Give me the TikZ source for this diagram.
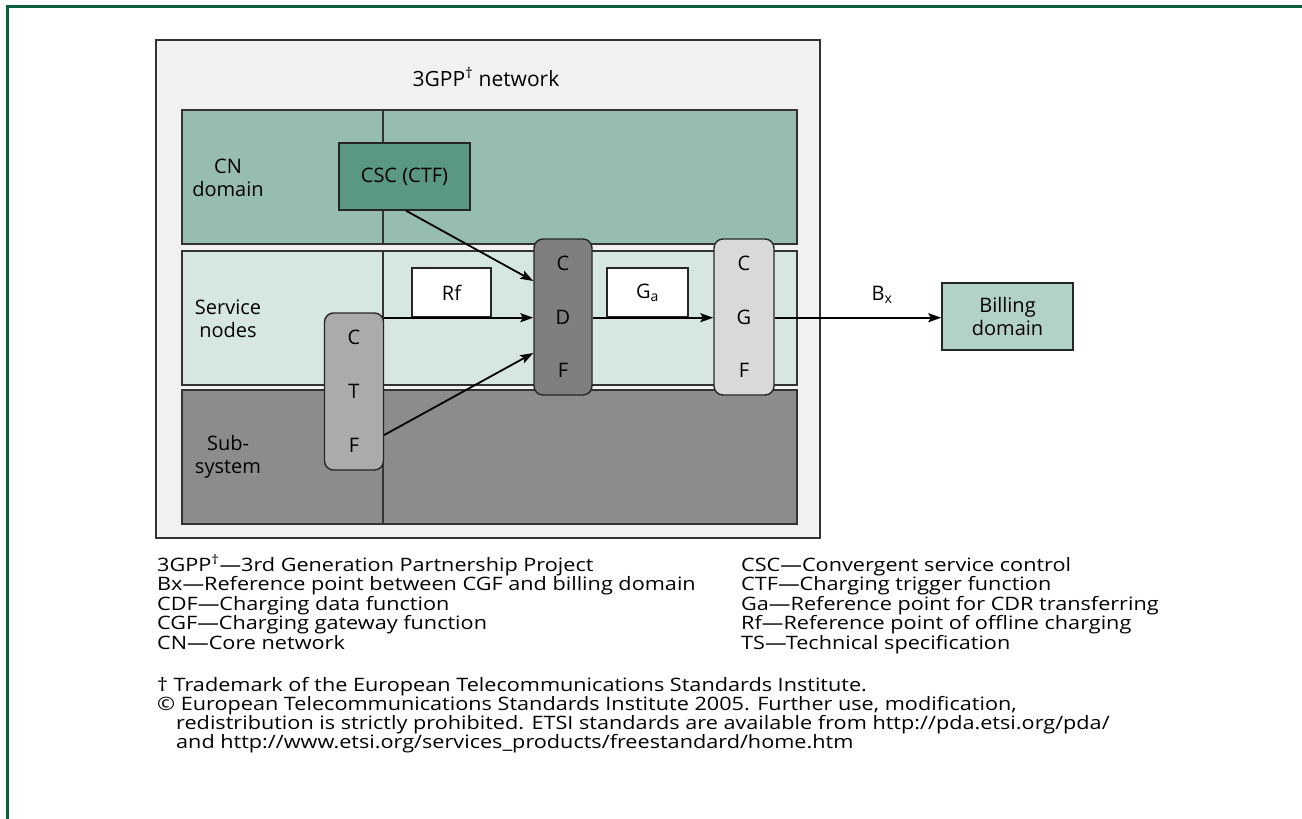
\documentclass[tikz,border=0pt]{standalone}
\usepackage{fontspec}
\setmainfont{Open Sans}
\newfontfamily\legendfont{Open Sans}[FakeStretch=1.17]
\usetikzlibrary{arrows.meta}

\definecolor{framegreen}{HTML}{0B5D3B}
\definecolor{netbg}{HTML}{F1F1F1}
\definecolor{netline}{HTML}{333333}
\definecolor{cnband}{HTML}{97BCB0}
\definecolor{svband}{HTML}{D6E6E0}
\definecolor{subband}{HTML}{8C8C8C}
\definecolor{cscfill}{HTML}{5B9883}
\definecolor{cdffill}{HTML}{7F7F7F}
\definecolor{cgffill}{HTML}{D9D9D9}
\definecolor{ctffill}{HTML}{ABABAB}
\definecolor{billfill}{HTML}{B3D2C7}

\begin{document}
\begin{tikzpicture}[x=1pt, y=-1pt,
  font=\fontsize{20}{23}\selectfont,
  band/.style={draw=netline, line width=1.6pt, inner sep=0pt, anchor=north west,
               minimum width=615pt, minimum height=134pt},
  plainbox/.style={draw=black!85, line width=1.4pt, inner sep=0pt, align=center},
  funcbox/.style={plainbox, rounded corners=9pt, minimum width=59pt, minimum height=156pt,
                  font=\fontsize{20}{53.5}\selectfont},
  reflabel/.style={plainbox, fill=white, minimum width=80pt, minimum height=49pt},
  bandtext/.style={align=center, inner sep=0pt},
  flow/.style={line width=1.8pt, -{Stealth[length=13pt, width=9pt, inset=2.5pt]}},
  legend/.style={anchor=base west, inner sep=0pt, font=\legendfont\fontsize{18.5}{19.5}\selectfont}
]
\useasboundingbox (0,0) rectangle (1302,819);

% page frame (top and left rules)
\draw[framegreen, line width=3pt] (7.5,819) -- (7.5,6) -- (1302,6);

% 3GPP network area
\node[draw=netline, line width=1.5pt, fill=netbg, anchor=north west, inner sep=0pt,
      minimum width=664pt, minimum height=498pt] (net) at (155,39) {};
\node[bandtext, font=\fontsize{21}{24}\selectfont] (nettitle) at (486,77) {3GPP\textsuperscript{†} network};

% domain bands
\node[band, fill=cnband]  (cn)  at (181,109) {};
\node[band, fill=svband]  (sv)  at (181,250) {};
\node[band, fill=subband] (sub) at (181,389) {};
\foreach \b in {cn,sv,sub}
  \draw[netline, line width=1.2pt] (\b.north west -| 383,0) -- (\b.south west -| 383,0);

\node[bandtext] (cnlbl)  at (228,177.5) {CN\\domain};
\node[bandtext] (svlbl)  at (228,318.5) {Service\\nodes};
\node[bandtext] (sublbl) at (228,457)   {Sub-\\system};

% functions
\node[plainbox, fill=cscfill, minimum width=131pt, minimum height=67pt] (csc) at (404.5,176.5) {CSC (CTF)};
\node[funcbox, fill=ctffill, minimum height=157pt, font=\fontsize{20}{54}\selectfont] (ctf) at (354,391.5) {C\\T\\F};
\node[funcbox, fill=cdffill, minimum width=58pt] (cdf) at (563,317) {C\\D\\F};
\node[funcbox, fill=cgffill, minimum width=60pt] (cgf) at (744,317) {C\\G\\F};
\node[plainbox, fill=billfill, minimum width=131pt, minimum height=67pt] (bill) at (1007.5,316.5) {Billing\\domain};

% reference points
\node[reflabel, minimum width=79pt] (rf) at (451.5,292.5) {Rf};
\node[reflabel, minimum width=81pt] (ga) at (647.5,292.5) {G\textsubscript{a}};

% charging flows
\draw[flow] ([xshift=1.5pt]csc.south) -- ([yshift=36pt]cdf.west);
\draw[flow] ([yshift=-43.5pt]ctf.east) -- ([yshift=-36pt]cdf.west);
\draw[flow] (ctf.east |- rf.south) -- (cdf.west |- rf.south);
\draw[flow] (cdf.east |- ga.south) -- (cgf.west |- ga.south);
\draw[flow] (cgf.east |- ga.south) -- (bill.west |- ga.south);
\node[bandtext] (bx) at (882,295) {B\textsubscript{x}};

% abbreviations
\node[legend] (l1) at (157,571) {3GPP\textsuperscript{†}—3rd Generation Partnership Project};
\node[legend] (l2) at (157,590.5) {Bx—Reference point between CGF and billing domain};
\node[legend] (l3) at (157,610) {CDF—Charging data function};
\node[legend] (l4) at (157,629.5) {CGF—Charging gateway function};
\node[legend] (l5) at (157,649) {CN—Core network};
\node[legend] (r1) at (741,571) {CSC—Convergent service control};
\node[legend] (r2) at (741,590.5) {CTF—Charging trigger function};
\node[legend] (r3) at (741,610) {Ga—Reference point for CDR transferring};
\node[legend] (r4) at (741,629.5) {Rf—Reference point of offline charging};
\node[legend] (r5) at (741,649) {TS—Technical specification};

% notes
\node[legend] (n1) at (157,691) {† Trademark of the European Telecommunications Standards Institute.};
\node[legend] (n2) at (157,710) {© European Telecommunications Standards Institute 2005. Further use, modification,};
\node[legend] (n3) at (176,729) {redistribution is strictly prohibited. ETSI standards are available from http://pda.etsi.org/pda/};
\node[legend] (n4) at (176,748) {and http://www.etsi.org/services\_products/freestandard/home.htm};
\end{tikzpicture}
\end{document}
